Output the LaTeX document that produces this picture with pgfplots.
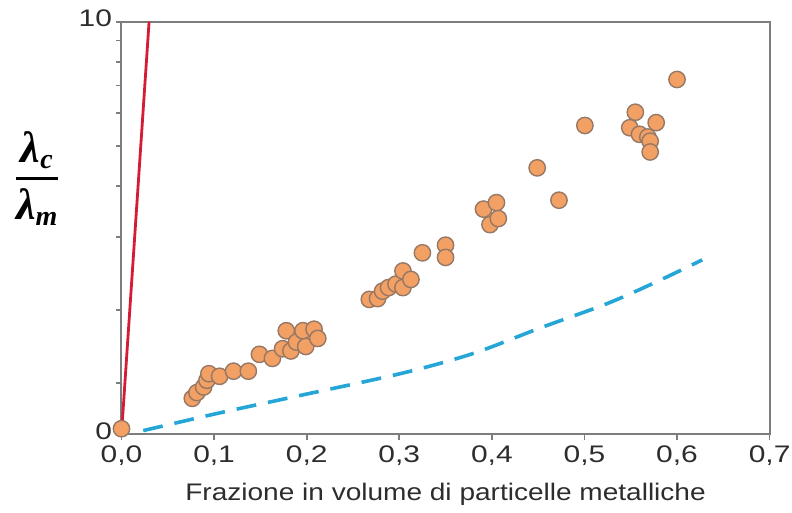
\documentclass[border=0pt]{standalone}
\usepackage{pgfplots}
\pgfplotsset{compat=1.18}
\usepackage{amsmath}
\usepackage{fontspec}
\setmainfont{Liberation Sans}
\newfontfamily\ticksfont[FakeStretch=1.25]{Liberation Sans}
\newfontfamily\labelfont[FakeStretch=1.17]{Liberation Sans}
\newfontfamily\lamfont{Liberation Serif}

\definecolor{axisgray}{RGB}{125,125,125}
\definecolor{ticktext}{RGB}{45,45,45}
\definecolor{fillorange}{RGB}{242,160,100}
\definecolor{edgebrown}{RGB}{150,120,100}
\definecolor{linered}{RGB}{212,28,52}
\definecolor{dashblue}{RGB}{38,166,214}

% bold italic lambda with a subscript
\newcommand\lam[1]{\mbox{\lamfont\bfseries\itshape\fontsize{22}{24}\selectfont λ}%
  _{\mbox{\lamfont\bfseries\itshape\fontsize{14}{16}\selectfont #1}}}

\begin{document}
\begin{tikzpicture}
\begin{axis}[
  scale only axis,
  width=324.6pt, height=206.5pt,
  xmin=0, xmax=0.7,
  ymode=log, ymin=1, ymax=10,
  xtick={0,0.1,...,0.7},
  xticklabels={{0,0},{0,1},{0,2},{0,3},{0,4},{0,5},{0,6},{0,7}},
  ytick={1,10},
  yticklabels={0,10},
  minor ytick={1.33,2,3,4,5,6,7,8,9},
  axis line style={axisgray, line width=1pt},
  tick style={axisgray, line width=0.9pt},
  major tick length=2.8pt,
  minor tick length=2.8pt,
  tick align=outside,
  xtick pos=left, ytick pos=left,
  tick label style={font=\ticksfont\fontsize{12}{14}\selectfont, text=ticktext, inner sep=0.8pt},
  /pgf/number format/assume math mode=true,
  xticklabel style={yshift=-2.3pt},
  yticklabel style={xshift=-1pt, yshift=1.5pt},
  xlabel={Frazione in volume di particelle metalliche},
  xlabel style={font=\labelfont\fontsize{12}{14}\selectfont, text=ticktext,
    at={(axis description cs:0.5,0)}, anchor=base, yshift=-33.5pt},
  ylabel={$\displaystyle\genfrac{}{}{1.4pt}{0}{\lam{c}}{\lam{m}}$},
  ylabel style={rotate=-90, at={(axis description cs:-0.13,0.62)}, anchor=center},
  clip=false,
]
% upper bound
\addplot[linered, line width=1.4pt] coordinates {(0,1) (0.0298,10)};
% lower bound
\addplot[dashblue, line width=1.8pt, dash pattern=on 10pt off 6pt, smooth] coordinates {
  (0.0235,1.019) (0.1053,1.124) (0.1872,1.232) (0.3026,1.403) (0.3796,1.567)
  (0.4517,1.806) (0.5238,2.068) (0.5768,2.333) (0.6273,2.644)
};
% measurements
\addplot[only marks, mark=*, mark size=4.1pt,
  mark options={fill=fillorange, draw=edgebrown, line width=0.7pt}] coordinates {
  (0,1.03)
  (0.0765,1.22) (0.0815,1.26) (0.0887,1.30) (0.0923,1.35) (0.0944,1.40)
  (0.106,1.38) (0.121,1.42) (0.137,1.42)
  (0.149,1.56) (0.163,1.525) (0.174,1.61) (0.178,1.78) (0.183,1.59)
  (0.189,1.67) (0.196,1.78) (0.199,1.63) (0.208,1.795) (0.212,1.705)
  (0.2677,2.12) (0.2766,2.13) (0.282,2.22) (0.2885,2.265) (0.2965,2.31)
  (0.304,2.265) (0.304,2.485) (0.3126,2.37)
  (0.325,2.75) (0.350,2.87) (0.350,2.68)
  (0.391,3.51) (0.405,3.64) (0.398,3.22) (0.407,3.33)
  (0.449,4.42) (0.4725,3.69)
  (0.5005,5.60) (0.555,6.03) (0.549,5.53) (0.5775,5.69) (0.5595,5.33)
  (0.5685,5.25) (0.571,5.13) (0.571,4.83)
  (0.600,7.24)
};
% page margins around the frame
\path (axis description cs:0,0) ++(-60.85pt,-39pt);
\path (axis description cs:1,1) ++(10.5pt,10.85pt);
\end{axis}
\end{tikzpicture}
\end{document}
